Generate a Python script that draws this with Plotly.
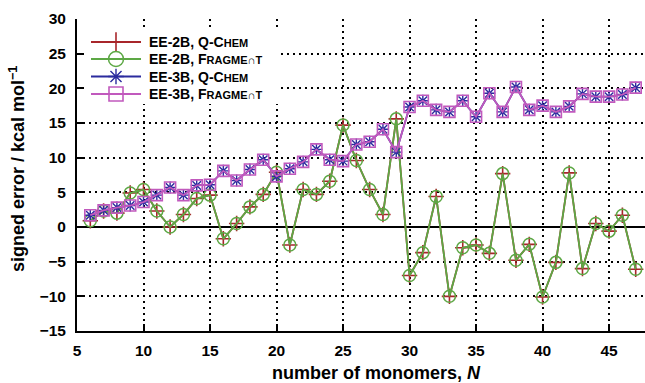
import plotly.graph_objects as go

# Signed errors (kcal/mol) versus cluster size
n_monomers = list(range(6, 48))

ee2b_qchem = [0.9, 2.3, 2.0, 4.9, 5.4, 2.3, 0.0, 1.8, 4.1, 4.6,
              -1.7, 0.5, 2.9, 4.7, 7.9, -2.6, 5.4, 4.7, 6.6, 14.7,
              9.6, 5.4, 1.8, 15.6, -7.0, -3.7, 4.4, -10.0, -3.0, -2.6,
              -3.8, 7.7, -4.8, -2.5, -10.1, -5.1, 7.8, -6.0, 0.5, -0.6,
              1.7, -6.1]
ee2b_fragment = list(ee2b_qchem)

ee3b_qchem = [1.7, 2.4, 2.8, 3.1, 3.6, 4.6, 5.7, 4.6, 6.0, 6.1,
              8.1, 6.7, 8.3, 9.7, 7.3, 8.4, 9.4, 11.2, 9.7, 9.5,
              11.9, 12.3, 14.1, 10.8, 17.3, 18.2, 16.9, 16.6, 18.2, 15.9,
              19.3, 16.6, 20.2, 16.9, 17.5, 16.6, 17.4, 19.2, 18.8, 18.8,
              19.1, 20.1]
ee3b_fragment = list(ee3b_qchem)

x_ticks = [5, 10, 15, 20, 25, 30, 35, 40, 45]
y_ticks = [-15, -10, -5, 0, 5, 10, 15, 20, 25, 30]

X_RANGE = [5, 47.7]
Y_RANGE = [-15, 30]

RED = "#a8262b"
GREEN = "#5da845"
BLUE = "#2b2b9e"
MAGENTA = "#c159bd"

FONT = "Liberation Sans, Arial, sans-serif"
SC = "<span style='font-size:11px'>{}</span>"

# plot area in page pixels
PL, PR, PT, PB = 77, 645, 19, 331


def px_x(px):
    return X_RANGE[0] + (px - PL) / (PR - PL) * (X_RANGE[1] - X_RANGE[0])


def px_y(py):
    return Y_RANGE[1] - (py - PT) / (PB - PT) * (Y_RANGE[1] - Y_RANGE[0])


series = [
    ("EE-2B, Q-C" + SC.format("HEM"), ee2b_qchem, RED, "cross-thin-open", 11, 1.6),
    ("EE-2B, F" + SC.format("RAGME∩T"), ee2b_fragment, GREEN, "circle-open", 12, 1.5),
    ("EE-3B, Q-C" + SC.format("HEM"), ee3b_qchem, BLUE, "asterisk-open", 10, 1.4),
    ("EE-3B, F" + SC.format("RAGME∩T"), ee3b_fragment, MAGENTA, "square-open", 11, 1.6),
]

fig = go.Figure()

for name, vals, color, sym, size, mw in series:
    fig.add_trace(go.Scatter(
        x=n_monomers, y=vals, mode="lines+markers",
        line=dict(color=color, width=1.8),
        marker=dict(symbol=sym, size=size, color=color,
                    line=dict(color=color, width=mw)),
        showlegend=False,
    ))

# White legend box hiding the grid behind the keys
fig.add_shape(type="rect", xref="x", yref="y",
              x0=px_x(79), x1=px_x(281), y0=px_y(27), y1=px_y(104),
              fillcolor="white", line=dict(width=0), layer="between")

# Legend keys, drawn on a pixel-scaled overlay axis
legend_rows = [42, 59, 76.5, 94]
for (name, _, color, sym, size, mw), ry in zip(series, legend_rows):
    fig.add_trace(go.Scatter(
        x=[91, 141], y=[ry, ry], xaxis="x2", yaxis="y2", mode="lines",
        line=dict(color=color, width=1.8), showlegend=False,
        hoverinfo="skip",
    ))
    fig.add_trace(go.Scatter(
        x=[116], y=[ry], xaxis="x2", yaxis="y2", mode="markers",
        marker=dict(symbol=sym, size=size + 3, color=color,
                    line=dict(color=color, width=mw)),
        showlegend=False, hoverinfo="skip",
    ))
    fig.add_annotation(
        x=147, y=ry, xref="x2", yref="y2", text="<b>" + name + "</b>",
        showarrow=False, xanchor="left", yanchor="middle",
        font=dict(family=FONT, size=14, color="black"),
    )

dotted = "1.6px,4.4px"

fig.update_layout(
    width=645, height=383,
    margin=dict(l=PL, r=645 - PR, t=PT, b=383 - PB),
    paper_bgcolor="white", plot_bgcolor="white",
    font=dict(family=FONT, color="black"),
    showlegend=False,
    xaxis=dict(
        range=X_RANGE, tickvals=x_ticks, ticks="inside", ticklen=7,
        tickwidth=2, tickcolor="black", showline=True, linecolor="black",
        linewidth=2, showgrid=True, gridcolor="black", gridwidth=1.5,
        griddash=dotted, zeroline=False, ticklabelstandoff=4,
        tickfont=dict(family=FONT, size=15.5, weight="bold"),
    ),
    yaxis=dict(
        range=Y_RANGE, tickvals=y_ticks, ticks="inside", ticklen=7,
        tickwidth=2, tickcolor="black", showline=True, linecolor="black",
        linewidth=2, showgrid=True, gridcolor="black", gridwidth=1.5,
        griddash=dotted, zeroline=True, zerolinecolor="black",
        zerolinewidth=1.6, ticklabelstandoff=6,
        tickfont=dict(family=FONT, size=15.5, weight="bold"),
    ),
    xaxis2=dict(range=[PL, PR], overlaying="x", visible=False,
                fixedrange=True),
    yaxis2=dict(range=[PB, PT], overlaying="y", visible=False,
                fixedrange=True),
)

fig.add_annotation(
    x=0.528, y=-0.1346, xref="paper", yref="paper",
    text="<b>number of monomers, <i>N</i></b>", showarrow=False,
    xanchor="center", yanchor="middle",
    font=dict(family=FONT, size=18, color="black"),
)
fig.add_annotation(
    x=-0.1056, y=0.519, xref="paper", yref="paper",
    text="<b>signed error / kcal mol<sup>−1</sup></b>", showarrow=False,
    textangle=-90, xanchor="center", yanchor="middle",
    font=dict(family=FONT, size=18, color="black"),
)

fig.write_html("out.html")
